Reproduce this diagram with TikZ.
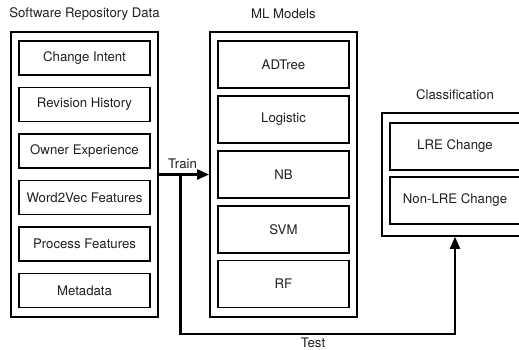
\documentclass[tikz,border=0pt]{standalone}
\usepackage{fontspec}
\setmainfont{TeX Gyre Heros}
\usetikzlibrary{arrows.meta}
\begin{document}
\begin{tikzpicture}[x=1pt,y=-1pt,
  every node/.style={font=\fontsize{13.2}{15}\selectfont, text=black!88},
  outerbox/.style={draw, line width=1.6pt, minimum width=147pt, inner sep=0pt},
  inbox/.style={draw, line width=1.6pt, minimum width=131pt, inner sep=0pt},
  flow/.style={line width=2.2pt, -{Triangle[length=12pt,width=10pt]}},
  lbl/.style={inner sep=0pt}]
\useasboundingbox (0,0) rectangle (519,350);
\clip (0,0) rectangle (519,350);
% titles
\node[lbl] (t1) at (84.5,14) {Software Repository Data};
\node[lbl] (t2) at (283.5,14) {ML Models};
\node[lbl] (t3) at (455,95) {Classification};
% left column
\node[outerbox, minimum height=285pt] (srd) at (84.5,174.5) {};
\node[inbox, minimum height=34pt] (ci) at (84.5,58) {Change Intent};
\node[inbox, minimum height=34pt] (rh) at (84.5,104.5) {Revision History};
\node[inbox, minimum height=34pt] (oe) at (84.5,151) {Owner Experience};
\node[inbox, minimum height=34pt] (wv) at (84.5,197.5) {Word2Vec Features};
\node[inbox, minimum height=34pt] (pf) at (84.5,244) {Process Features};
\node[inbox, minimum height=34pt] (md) at (84.5,290.5) {Metadata};
% middle column
\node[outerbox, minimum height=285pt] (ml) at (283.5,174.5) {};
\node[inbox, minimum height=47pt] (adt) at (283.5,64.5) {ADTree};
\node[inbox, minimum height=47pt] (lg) at (283.5,119.4) {Logistic};
\node[inbox, minimum height=47pt] (nb) at (283.5,174.3) {NB};
\node[inbox, minimum height=47pt] (svm) at (283.5,229.2) {SVM};
\node[inbox, minimum height=47pt] (rf) at (283.5,284.1) {RF};
% right column
\node[outerbox, minimum width=146pt, minimum height=123pt] (cls) at (455,174.5) {};
\node[inbox, minimum width=130pt, minimum height=47pt] (lre) at (455,146.5) {LRE Change};
\node[inbox, minimum width=130pt, minimum height=47pt] (nlre) at (455,200.5) {Non-LRE Change};
% arrows
\draw[flow] (srd.east) -- node[lbl, above=5pt, pos=0.47] (train) {Train} (ml.west);
\coordinate (split) at (180.5,174.5);
\coordinate (corner) at (455,334);
\draw[flow] (split) |- (corner) -- (cls.south);
\node[lbl] (test) at (313,343) {Test};
\end{tikzpicture}
\end{document}
